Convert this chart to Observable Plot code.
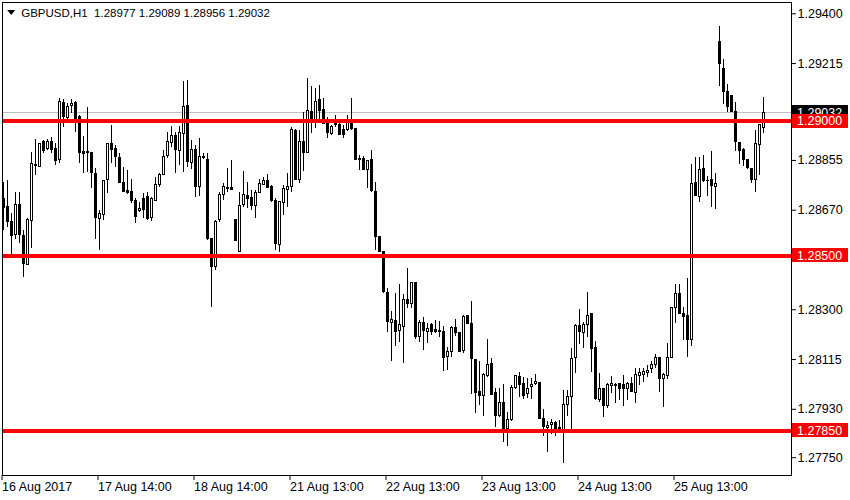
<!DOCTYPE html>
<html><head><meta charset="utf-8">
<script src="https://cdn.jsdelivr.net/npm/d3@7"></script>
<script src="https://cdn.jsdelivr.net/npm/@observablehq/plot@0.6"></script>
<style>
body{margin:0;background:#fff}
#chart{width:850px;height:500px}
svg text{white-space:pre}
</style>
</head><body><div id="chart"></div>
<script>
const symbolName = "GBPUSD,H1";
const open = [1.28712,1.28681,1.28628,1.28578,1.28691,1.28576,1.28468,1.28630,1.28834,1.28830,
1.28925,1.28897,1.28925,1.28898,1.28855,1.29070,1.29012,1.29058,1.29070,1.29016,
1.28887,1.28888,1.28881,1.28805,1.28638,1.28653,1.28783,1.28917,1.28898,1.28864,
1.28772,1.28743,1.28739,1.28706,1.28666,1.28712,1.28719,1.28640,1.28706,1.28764,
1.28801,1.28872,1.28919,1.28944,1.28889,1.28954,1.29059,1.28845,1.28895,1.28756,
1.28869,1.28858,1.28563,1.28458,1.28632,1.28727,1.28753,1.28753,1.28632,1.28514,
1.28690,1.28723,1.28715,1.28684,1.28734,1.28764,1.28777,1.28758,1.28706,1.28541,
1.28697,1.28746,1.28758,1.28966,1.28783,1.28925,1.28883,1.29034,1.28997,1.29081,
1.29044,1.28991,1.28954,1.28997,1.28988,1.28969,1.28969,1.28997,1.28972,1.28860,
1.28861,1.28820,1.28857,1.28739,1.28572,1.28514,1.28363,1.28250,1.28260,1.28221,
1.28236,1.28335,1.28320,1.28400,1.28198,1.28252,1.28217,1.28242,1.28223,1.28221,
1.28219,1.28124,1.28143,1.28233,1.28213,1.28146,1.28275,1.28248,1.28115,1.27996,
1.27980,1.28054,1.28099,1.27991,1.27905,1.27954,1.27858,1.27889,1.28009,1.28050,
1.28023,1.27988,1.28013,1.28025,1.28029,1.27895,1.27862,1.27873,1.27880,1.27858,
1.27854,1.27947,1.27975,1.28122,1.28238,1.28215,1.28244,1.28283,1.28159,1.27963,
1.28006,1.27942,1.28016,1.28021,1.28025,1.28019,1.28006,1.28025,1.27990,1.28052,
1.28058,1.28065,1.28081,1.28093,1.28122,1.28042,1.28053,1.28122,1.28307,1.28359,
1.28285,1.28275,1.28186,1.28772,1.28719,1.28824,1.28779,1.28781,1.28756,1.29297,
1.29193,1.29109,1.29093,1.29034,1.28921,1.28892,1.28855,1.28824,1.28784,1.28913,
1.28977];
const high = [1.28774,1.28780,1.28656,1.28737,1.28737,1.28594,1.28638,1.28886,1.28931,1.28919,
1.28929,1.28931,1.28941,1.28917,1.29084,1.29080,1.29065,1.29080,1.29074,1.29022,
1.28945,1.29053,1.28886,1.28824,1.28669,1.28780,1.28919,1.28985,1.28910,1.28879,
1.28830,1.28818,1.28786,1.28712,1.28700,1.28731,1.28737,1.28718,1.28793,1.28808,
1.28892,1.28960,1.28981,1.28960,1.28981,1.29148,1.29152,1.28929,1.28910,1.28935,
1.28879,1.28879,1.28563,1.28632,1.28737,1.28768,1.28824,1.28855,1.28632,1.28737,
1.28814,1.28774,1.28743,1.28743,1.28786,1.28790,1.28803,1.28762,1.28712,1.28702,
1.28762,1.28805,1.28978,1.28969,1.28966,1.29034,1.29158,1.29130,1.29121,1.29133,
1.29084,1.29016,1.28985,1.29022,1.29003,1.28985,1.29022,1.29084,1.28972,1.28873,
1.28869,1.28855,1.28892,1.28774,1.28572,1.28514,1.28380,1.28294,1.28362,1.28394,
1.28357,1.28455,1.28403,1.28400,1.28260,1.28273,1.28250,1.28248,1.28260,1.28257,
1.28238,1.28161,1.28238,1.28264,1.28213,1.28279,1.28279,1.28331,1.28115,1.28109,
1.28062,1.28190,1.28118,1.28006,1.28006,1.28022,1.27917,1.28018,1.28056,1.28068,
1.28047,1.28044,1.28044,1.28060,1.28029,1.27928,1.27885,1.27892,1.27883,1.27890,
1.28000,1.28000,1.28155,1.28244,1.28300,1.28252,1.28363,1.28285,1.28182,1.28062,
1.28006,1.28025,1.28052,1.28025,1.28025,1.28054,1.28029,1.28050,1.28083,1.28081,
1.28083,1.28091,1.28109,1.28134,1.28122,1.28062,1.28174,1.28307,1.28394,1.28394,
1.28310,1.28418,1.28840,1.28867,1.28867,1.28873,1.28797,1.28888,1.28806,1.29353,
1.29229,1.29137,1.29093,1.29072,1.28921,1.28901,1.28857,1.28826,1.28966,1.28989,
1.29089];
const low = [1.28594,1.28607,1.28493,1.28563,1.28545,1.28421,1.28466,1.28526,1.28799,1.28828,
1.28879,1.28892,1.28879,1.28836,1.28842,1.28978,1.28993,1.29031,1.28957,1.28845,
1.28805,1.28811,1.28749,1.28563,1.28520,1.28632,1.28731,1.28842,1.28830,1.28768,
1.28735,1.28728,1.28694,1.28622,1.28660,1.28638,1.28630,1.28629,1.28703,1.28753,
1.28798,1.28864,1.28904,1.28808,1.28836,1.28811,1.28830,1.28820,1.28718,1.28721,
1.28857,1.28557,1.28310,1.28446,1.28625,1.28706,1.28737,1.28744,1.28555,1.28512,
1.28681,1.28675,1.28669,1.28640,1.28731,1.28762,1.28749,1.28700,1.28520,1.28514,
1.28650,1.28681,1.28737,1.28780,1.28768,1.28814,1.28882,1.28956,1.28975,1.29009,
1.28989,1.28935,1.28948,1.28978,1.28948,1.28935,1.28964,1.28966,1.28855,1.28818,
1.28818,1.28749,1.28737,1.28520,1.28512,1.28362,1.28217,1.28106,1.28164,1.28180,
1.28102,1.28304,1.28304,1.28189,1.28180,1.28149,1.28174,1.28205,1.28211,1.28198,
1.28072,1.28075,1.28124,1.28202,1.28140,1.28139,1.28248,1.27984,1.27913,1.27944,
1.27905,1.28050,1.27982,1.27862,1.27901,1.27808,1.27790,1.27883,1.28003,1.27975,
1.27966,1.27969,1.27966,1.28019,1.27892,1.27830,1.27771,1.27837,1.27830,1.27845,
1.27730,1.27905,1.27839,1.28062,1.28171,1.28155,1.28198,1.28068,1.27963,1.27957,
1.27901,1.27932,1.27988,1.27953,1.27963,1.27941,1.27963,1.27992,1.27953,1.28019,
1.28031,1.28047,1.28062,1.28083,1.27994,1.27938,1.28040,1.28120,1.28248,1.28283,
1.28184,1.28124,1.28164,1.28721,1.28700,1.28772,1.28722,1.28681,1.28674,1.29131,
1.29062,1.29034,1.29032,1.28890,1.28839,1.28834,1.28821,1.28768,1.28734,1.28799,
1.28956];
const close = [1.28679,1.28625,1.28573,1.28691,1.28578,1.28471,1.28635,1.28842,1.28839,1.28917,
1.28891,1.28925,1.28895,1.28852,1.29073,1.29016,1.29055,1.29065,1.29009,1.28882,
1.28879,1.28882,1.28808,1.28640,1.28656,1.28778,1.28917,1.28894,1.28867,1.28770,
1.28737,1.28733,1.28703,1.28644,1.28675,1.28672,1.28638,1.28710,1.28764,1.28801,
1.28869,1.28925,1.28944,1.28892,1.28957,1.29055,1.28848,1.28892,1.28756,1.28869,
1.28863,1.28563,1.28458,1.28628,1.28727,1.28756,1.28747,1.28746,1.28557,1.28687,
1.28727,1.28711,1.28684,1.28734,1.28768,1.28780,1.28753,1.28703,1.28545,1.28700,
1.28747,1.28758,1.28969,1.28783,1.28925,1.28883,1.29037,1.28997,1.29074,1.29040,
1.28991,1.28956,1.28981,1.28987,1.28951,1.28950,1.28997,1.28970,1.28857,1.28855,
1.28821,1.28852,1.28741,1.28570,1.28514,1.28365,1.28254,1.28263,1.28217,1.28242,
1.28337,1.28320,1.28399,1.28198,1.28252,1.28221,1.28227,1.28217,1.28217,1.28218,
1.28122,1.28143,1.28233,1.28213,1.28143,1.28273,1.28248,1.28118,1.27990,1.27980,
1.28056,1.28096,1.27985,1.27905,1.27954,1.27858,1.27891,1.28009,1.28052,1.28022,
1.27978,1.28006,1.28021,1.28031,1.27895,1.27864,1.27869,1.27880,1.27858,1.27862,
1.27947,1.27975,1.28118,1.28238,1.28217,1.28245,1.28275,1.28155,1.27969,1.28006,
1.27944,1.28021,1.28023,1.28016,1.28006,1.28004,1.28023,1.27994,1.28058,1.28065,
1.28067,1.28074,1.28093,1.28122,1.28044,1.28058,1.28122,1.28307,1.28359,1.28285,
1.28273,1.28186,1.28766,1.28722,1.28821,1.28777,1.28777,1.28760,1.28766,1.29213,
1.29109,1.29053,1.29034,1.28923,1.28890,1.28857,1.28826,1.28781,1.28917,1.28985,
1.29032];
const timeTickIndex = [0, 24, 48, 72, 96, 120, 144, 168];
const timeTickLabels = ["16 Aug 2017", "17 Aug 14:00", "18 Aug 14:00", "21 Aug 13:00", "22 Aug 13:00", "23 Aug 13:00", "24 Aug 13:00", "25 Aug 13:00"];
const priceTicks = [1.29400, 1.29215, 1.28855, 1.28670, 1.28300, 1.28115, 1.27930, 1.27750];
const levels = [1.29000, 1.28500, 1.27850];
const bidPrice = 1.29032;

const f5 = d3.format(".5f");
const bars = open.map((o, i) => ({i, o, h: high[i], l: low[i], c: close[i], up: close[i] >= o}));
const last = bars[bars.length - 1];
const header = `${symbolName}  ${f5(last.o)} ${f5(last.h)} ${f5(last.l)} ${f5(last.c)}`;
const tri = {draw(ctx) { ctx.moveTo(-4, -2.6); ctx.lineTo(4, -2.6); ctx.lineTo(0, 2.6); ctx.closePath(); }};
const halfBox = 0.00026;
const xEdge = 197.25, xEnd = 211.25;
const crisp = "crispEdges";

const chart = Plot.plot({
  width: 850, height: 500,
  marginLeft: 2, marginRight: 59, marginTop: 2, marginBottom: 25,
  style: {fontFamily: "'Liberation Sans', Arial, sans-serif", fontSize: "12.5px", background: "#fff", color: "#000"},
  x: {type: "linear", domain: [-0.25, 197], axis: null},
  y: {domain: [1.27684, 1.29442], axis: null},
  marks: [
    Plot.ruleY([bidPrice], {stroke: "#c0c0c0", shapeRendering: crisp}),
    Plot.ruleX(bars, {x: "i", y1: "l", y2: "h", stroke: "#000", shapeRendering: crisp}),
    Plot.rect(bars, {x1: d => d.i - 0.25, x2: d => d.i + 0.25, y1: "o", y2: "c", fill: d => d.up ? "#fff" : "#000", stroke: "#000", shapeRendering: crisp}),
    Plot.ruleY(levels, {stroke: "#ff0000", strokeWidth: 4, shapeRendering: crisp}),
    Plot.frame({stroke: "#000", shapeRendering: crisp}),
    Plot.axisY(priceTicks, {anchor: "right", tickSize: 4, tickPadding: 2, tickFormat: f5, label: null}),
    Plot.axisX(timeTickIndex, {anchor: "bottom", tickSize: 5, tickPadding: 2, tickFormat: d => timeTickLabels[timeTickIndex.indexOf(d)], textAnchor: "start", dx: -1.5, label: null}),
    Plot.rect([bidPrice], {x1: xEdge, x2: xEnd, y1: d => d - halfBox, y2: d => d + halfBox, fill: "#000", shapeRendering: crisp}),
    Plot.text([bidPrice], {x: xEdge, y: d => d, text: f5, fill: "#fff", textAnchor: "start", dx: 4.5}),
    Plot.rect(levels, {x1: xEdge, x2: xEnd, y1: d => d - halfBox, y2: d => d + halfBox, fill: "#ff0000", shapeRendering: crisp}),
    Plot.text(levels, {x: xEdge, y: d => d, text: f5, fill: "#fff", textAnchor: "start", dx: 4.5}),
    Plot.dot([0], {frameAnchor: "top-left", dx: 8.7, dy: 10, symbol: tri, fill: "#000", stroke: null}),
    Plot.text([header], {frameAnchor: "top-left", dx: 18.7, dy: 10.5, text: d => d, textAnchor: "start", lineAnchor: "middle", fontSize: 11.5, fill: "#000"})
  ]
});
document.getElementById("chart").appendChild(chart);
</script>
</body></html>
